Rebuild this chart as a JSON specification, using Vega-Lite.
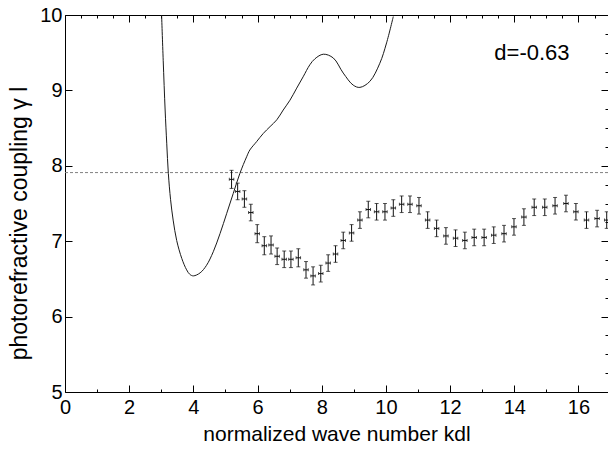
{
  "$schema": "https://vega.github.io/schema/vega-lite/v6.json",
  "width": 543,
  "height": 377,
  "autosize": {"type": "none"},
  "padding": {"left": 65, "top": 15, "right": 0, "bottom": 57},
  "background": "white",
  "config": {
    "view": {"stroke": null},
    "font": "Liberation Sans",
    "axis": {
      "domainColor": "black",
      "tickColor": "black",
      "labelColor": "black",
      "titleColor": "black",
      "labelFont": "Liberation Sans",
      "titleFont": "Liberation Sans",
      "labelFontSize": 20,
      "titleFontSize": 21,
      "titleFontWeight": "normal",
      "grid": false
    }
  },
  "datasets": {
    "theory": [
      {"x": 3.01, "y": 10.0}, {"x": 3.06, "y": 9.40}, {"x": 3.12, "y": 8.74}, {"x": 3.17, "y": 8.30},
      {"x": 3.22, "y": 7.90}, {"x": 3.29, "y": 7.55}, {"x": 3.37, "y": 7.28}, {"x": 3.48, "y": 7.01},
      {"x": 3.64, "y": 6.77}, {"x": 3.79, "y": 6.62}, {"x": 3.89, "y": 6.56}, {"x": 4.00, "y": 6.54},
      {"x": 4.21, "y": 6.58}, {"x": 4.41, "y": 6.68}, {"x": 4.62, "y": 6.86}, {"x": 4.83, "y": 7.10},
      {"x": 5.04, "y": 7.37}, {"x": 5.24, "y": 7.63}, {"x": 5.45, "y": 7.90}, {"x": 5.66, "y": 8.12},
      {"x": 5.76, "y": 8.21}, {"x": 5.97, "y": 8.32}, {"x": 6.18, "y": 8.43}, {"x": 6.39, "y": 8.52},
      {"x": 6.60, "y": 8.61}, {"x": 6.80, "y": 8.74}, {"x": 7.01, "y": 8.87}, {"x": 7.22, "y": 9.03},
      {"x": 7.42, "y": 9.18}, {"x": 7.63, "y": 9.34}, {"x": 7.79, "y": 9.42}, {"x": 8.05, "y": 9.48},
      {"x": 8.36, "y": 9.43}, {"x": 8.67, "y": 9.23}, {"x": 8.98, "y": 9.07}, {"x": 9.19, "y": 9.04},
      {"x": 9.50, "y": 9.12}, {"x": 9.81, "y": 9.36}, {"x": 10.02, "y": 9.63}, {"x": 10.23, "y": 9.98}
    ],
    "exp": [
      {"x": 5.19, "y": 7.82, "ex": 0.07, "ey": 0.12},
      {"x": 5.38, "y": 7.66, "ex": 0.07, "ey": 0.11},
      {"x": 5.59, "y": 7.56, "ex": 0.07, "ey": 0.11},
      {"x": 5.79, "y": 7.38, "ex": 0.07, "ey": 0.11},
      {"x": 5.99, "y": 7.10, "ex": 0.07, "ey": 0.12},
      {"x": 6.21, "y": 6.94, "ex": 0.07, "ey": 0.12},
      {"x": 6.42, "y": 6.95, "ex": 0.07, "ey": 0.12},
      {"x": 6.61, "y": 6.80, "ex": 0.07, "ey": 0.11},
      {"x": 6.83, "y": 6.76, "ex": 0.07, "ey": 0.11},
      {"x": 7.04, "y": 6.76, "ex": 0.07, "ey": 0.11},
      {"x": 7.27, "y": 6.78, "ex": 0.07, "ey": 0.12},
      {"x": 7.51, "y": 6.62, "ex": 0.07, "ey": 0.11},
      {"x": 7.73, "y": 6.54, "ex": 0.07, "ey": 0.12},
      {"x": 7.97, "y": 6.57, "ex": 0.07, "ey": 0.11},
      {"x": 8.20, "y": 6.71, "ex": 0.07, "ey": 0.11},
      {"x": 8.43, "y": 6.83, "ex": 0.07, "ey": 0.11},
      {"x": 8.67, "y": 7.01, "ex": 0.07, "ey": 0.11},
      {"x": 8.93, "y": 7.11, "ex": 0.07, "ey": 0.11},
      {"x": 9.19, "y": 7.28, "ex": 0.07, "ey": 0.11},
      {"x": 9.45, "y": 7.42, "ex": 0.07, "ey": 0.11},
      {"x": 9.71, "y": 7.39, "ex": 0.07, "ey": 0.11},
      {"x": 9.97, "y": 7.39, "ex": 0.07, "ey": 0.11},
      {"x": 10.23, "y": 7.44, "ex": 0.07, "ey": 0.11},
      {"x": 10.49, "y": 7.49, "ex": 0.07, "ey": 0.11},
      {"x": 10.75, "y": 7.49, "ex": 0.07, "ey": 0.11},
      {"x": 11.03, "y": 7.47, "ex": 0.07, "ey": 0.11},
      {"x": 11.30, "y": 7.28, "ex": 0.07, "ey": 0.11},
      {"x": 11.58, "y": 7.17, "ex": 0.07, "ey": 0.11},
      {"x": 11.87, "y": 7.07, "ex": 0.07, "ey": 0.11},
      {"x": 12.17, "y": 7.04, "ex": 0.07, "ey": 0.11},
      {"x": 12.46, "y": 7.01, "ex": 0.07, "ey": 0.11},
      {"x": 12.75, "y": 7.05, "ex": 0.07, "ey": 0.11},
      {"x": 13.06, "y": 7.05, "ex": 0.07, "ey": 0.11},
      {"x": 13.36, "y": 7.08, "ex": 0.07, "ey": 0.11},
      {"x": 13.68, "y": 7.10, "ex": 0.07, "ey": 0.11},
      {"x": 13.99, "y": 7.19, "ex": 0.07, "ey": 0.11},
      {"x": 14.30, "y": 7.32, "ex": 0.07, "ey": 0.11},
      {"x": 14.62, "y": 7.45, "ex": 0.07, "ey": 0.11},
      {"x": 14.95, "y": 7.45, "ex": 0.07, "ey": 0.11},
      {"x": 15.27, "y": 7.47, "ex": 0.07, "ey": 0.11},
      {"x": 15.61, "y": 7.50, "ex": 0.07, "ey": 0.11},
      {"x": 15.92, "y": 7.39, "ex": 0.07, "ey": 0.11},
      {"x": 16.25, "y": 7.28, "ex": 0.07, "ey": 0.11},
      {"x": 16.58, "y": 7.30, "ex": 0.07, "ey": 0.11},
      {"x": 16.88, "y": 7.28, "ex": 0.07, "ey": 0.11}
    ],
    "ref": [{"y": 7.91}],
    "note": [{"x": 14.55, "y": 9.5, "label": "d=-0.63"}]
  },
  "resolve": {"axis": {"x": "independent", "y": "independent"}},
  "layer": [
    {
      "data": {"name": "ref"},
      "mark": {"type": "rule", "color": "#808080", "strokeWidth": 1, "strokeDash": [3, 2]},
      "encoding": {
        "y": {"field": "y", "type": "quantitative", "scale": {"domain": [5, 10], "nice": false, "zero": false}, "axis": null}
      }
    },
    {
      "data": {"name": "theory"},
      "mark": {"type": "line", "color": "#1a1a1a", "strokeWidth": 1, "interpolate": "catmull-rom", "clip": true},
      "encoding": {
        "x": {
          "field": "x", "type": "quantitative",
          "scale": {"domain": [0, 16.92], "nice": false, "zero": false},
          "axis": {
            "orient": "bottom",
            "title": "normalized wave number kdl",
            "format": "d",
            "values": [0, 0.5, 1, 1.5, 2, 2.5, 3, 3.5, 4, 4.5, 5, 5.5, 6, 6.5, 7, 7.5, 8, 8.5, 9, 9.5, 10, 10.5, 11, 11.5, 12, 12.5, 13, 13.5, 14, 14.5, 15, 15.5, 16, 16.5],
            "labelExpr": "datum.value % 2 === 0 ? datum.label : ''",
            "tickSize": {"condition": {"test": "datum.value % 2 === 0", "value": -7}, "value": -3},
            "labelPadding": 12,
            "titlePadding": 2,
            "labelFlush": false,
            "labelOverlap": false
          }
        },
        "y": {
          "field": "y", "type": "quantitative",
          "scale": {"domain": [5, 10], "nice": false, "zero": false},
          "axis": {
            "orient": "left",
            "title": "photorefractive coupling  γ l",
            "titleFontSize": 23,
            "titleY": 208,
            "format": "d",
            "values": [5, 5.25, 5.5, 5.75, 6, 6.25, 6.5, 6.75, 7, 7.25, 7.5, 7.75, 8, 8.25, 8.5, 8.75, 9, 9.25, 9.5, 9.75, 10],
            "labelExpr": "datum.value % 1 === 0 ? datum.label : ''",
            "tickSize": {"condition": {"test": "datum.value % 1 === 0", "value": -7}, "value": -3},
            "labelPadding": 10,
            "titlePadding": 8,
            "labelFlush": false,
            "labelOverlap": false
          }
        }
      }
    },
    {
      "data": {"name": "exp"},
      "mark": {"type": "errorbar", "color": "#111111", "ticks": {"size": 4, "color": "#111111"}, "rule": {"strokeWidth": 1}},
      "encoding": {
        "x": {"field": "x", "type": "quantitative", "scale": {"domain": [0, 16.92], "nice": false, "zero": false}, "axis": null},
        "y": {"field": "y", "type": "quantitative", "scale": {"domain": [5, 10], "nice": false, "zero": false}, "axis": null},
        "yError": {"field": "ey"}
      }
    },
    {
      "data": {"name": "exp"},
      "mark": {"type": "errorbar", "color": "#111111", "ticks": {"size": 3, "color": "#111111"}, "rule": {"strokeWidth": 1}},
      "encoding": {
        "y": {"field": "y", "type": "quantitative", "scale": {"domain": [5, 10], "nice": false, "zero": false}, "axis": null},
        "x": {"field": "x", "type": "quantitative", "scale": {"domain": [0, 16.92], "nice": false, "zero": false}, "axis": null},
        "xError": {"field": "ex"}
      }
    },
    {
      "data": {"name": "note"},
      "mark": {"type": "text", "font": "Liberation Sans", "fontSize": 22, "color": "black", "align": "center", "baseline": "middle"},
      "encoding": {
        "x": {
          "field": "x", "type": "quantitative",
          "scale": {"domain": [0, 16.92], "nice": false, "zero": false},
          "axis": {
            "orient": "top", "title": null, "labels": false,
            "values": [0, 0.5, 1, 1.5, 2, 2.5, 3, 3.5, 4, 4.5, 5, 5.5, 6, 6.5, 7, 7.5, 8, 8.5, 9, 9.5, 10, 10.5, 11, 11.5, 12, 12.5, 13, 13.5, 14, 14.5, 15, 15.5, 16, 16.5],
            "tickSize": {"condition": {"test": "datum.value % 2 === 0", "value": -7}, "value": -3}
          }
        },
        "y": {
          "field": "y", "type": "quantitative",
          "scale": {"domain": [5, 10], "nice": false, "zero": false},
          "axis": {
            "orient": "right", "title": null, "labels": false,
            "values": [5, 5.25, 5.5, 5.75, 6, 6.25, 6.5, 6.75, 7, 7.25, 7.5, 7.75, 8, 8.25, 8.5, 8.75, 9, 9.25, 9.5, 9.75, 10],
            "tickSize": {"condition": {"test": "datum.value % 1 === 0", "value": -7}, "value": -3}
          }
        },
        "text": {"field": "label"}
      }
    }
  ]
}
